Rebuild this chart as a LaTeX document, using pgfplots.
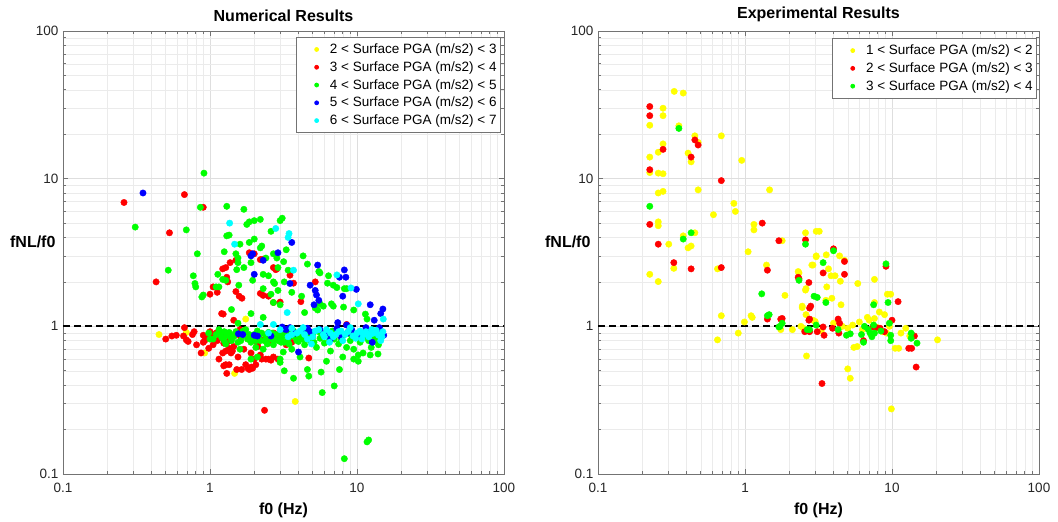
\documentclass[border=0pt]{standalone}
\usepackage{fontspec}
\setmainfont{Liberation Sans}
\usepackage{pgfplots}
\usepackage{pgfplotstable}
\pgfplotsset{compat=1.18}

\definecolor{pgaY}{rgb}{1,1,0}
\definecolor{pgaR}{rgb}{1,0,0}
\definecolor{pgaG}{rgb}{0,1,0}
\definecolor{pgaB}{rgb}{0,0,1}
\definecolor{pgaC}{rgb}{0,1,1}

% ---------- Numerical results: (f0 [Hz], fNL/f0) ----------
\pgfplotstableread{
x y
0.45 0.88
0.69 0.91
0.92 0.66
1.47 0.48
1.75 1.12
3.8 0.31
}\numY

\pgfplotstableread{
x y
0.26 6.9
0.67 7.8
0.90 6.4
0.53 4.3
0.43 2.0
1.00 1.65
1.05 1.85
1.12 1.70
1.20 1.22
1.22 2.45
1.28 2.50
1.30 2.15
1.32 2.00
1.37 2.70
1.45 1.10
1.50 2.80
1.50 1.72
1.58 1.60
1.65 1.55
1.85 3.15
2.00 3.10
2.20 2.83
2.20 1.67
2.30 2.85
2.30 1.62
2.50 1.60
2.70 2.50
2.70 1.45
2.80 2.42
2.85 2.45
3.00 1.46
3.50 2.22
3.70 1.96
4.15 1.47
5.20 2.00
8.50 1.03
1.23 1.21
0.50 0.82
0.55 0.86
0.59 0.87
0.66 0.86
0.67 0.98
0.69 0.81
0.71 0.79
0.76 0.88
0.81 0.75
0.87 0.66
0.90 0.87
0.92 0.80
0.90 0.78
0.95 0.85
1.03 0.88
1.05 0.75
1.10 0.90
1.17 0.86
1.22 0.90
1.24 0.77
1.22 0.66
1.24 0.54
1.28 0.68
1.28 0.55
1.30 0.48
1.35 0.71
1.35 0.55
1.39 0.66
1.42 0.68
1.45 0.73
1.45 0.86
1.52 0.51
1.54 0.90
1.62 0.84
1.64 0.51
1.81 0.52
1.85 0.51
1.90 0.66
1.91 0.53
1.95 0.52
2.00 0.60
2.12 0.73
2.20 0.64
2.25 0.60
2.32 0.81
2.35 0.27
2.40 0.60
2.50 0.77
2.50 0.60
2.60 0.59
2.70 0.62
2.72 0.90
2.90 0.60
2.95 0.86
3.30 0.75
3.60 0.78
4.00 0.82
4.70 0.61
5.00 0.85
6.00 0.90
7.50 0.88
9.00 0.95
1.15 0.93
1.60 0.95
0.78 0.92
1.00 0.92
1.12 0.80
1.33 0.79
1.55 0.62
1.70 0.70
1.75 0.55
2.05 0.55
2.10 0.77
1.15 0.60
0.98 0.71
}\numR

\pgfplotstableread{
x y
0.91 10.9
0.86 6.4
0.31 4.7
0.69 4.5
0.52 2.4
0.82 3.1
0.77 2.2
0.79 1.95
0.80 1.85
0.88 1.58
0.90 1.63
1.30 6.5
1.70 6.2
1.78 4.9
1.85 5.1
2.00 5.2
2.20 5.3
3.00 5.2
3.10 5.4
1.30 4.1
1.35 4.15
2.60 4.4
2.00 3.9
1.85 3.7
2.25 3.5
2.20 3.4
1.60 3.6
3.30 3.3
1.25 3.2
1.50 3.1
2.70 3.1
4.30 3.0
2.85 2.9
2.40 2.9
1.55 2.9
3.17 2.74
1.55 2.7
1.90 2.7
4.60 2.64
1.52 2.42
1.70 2.5
2.90 2.5
3.40 2.4
5.50 2.35
5.60 2.3
1.13 2.25
2.30 2.25
2.50 2.2
6.40 2.2
1.95 2.05
1.22 2.08
1.28 2.05
2.70 2.0
2.75 1.95
3.20 2.0
6.30 1.96
6.90 1.9
1.57 1.9
1.10 1.85
1.15 1.85
7.30 1.83
2.30 1.8
8.20 1.8
8.50 1.8
2.90 1.75
3.60 1.7
2.60 1.65
4.20 1.6
2.70 1.45
3.00 1.4
5.60 1.42
6.70 1.42
6.90 1.37
5.90 1.37
8.10 1.35
5.20 1.33
1.40 1.3
9.50 1.29
5.40 1.29
4.40 1.24
1.90 1.22
11.4 1.21
2.30 1.15
11.7 1.12
1.55 1.05
1.10 0.88
1.20 0.84
1.25 0.80
1.30 0.87
1.35 0.91
1.40 0.80
1.50 0.92
1.55 0.78
1.65 0.86
1.70 0.90
1.80 0.82
1.90 0.78
2.00 0.88
2.10 0.93
2.20 0.80
2.30 0.70
2.40 0.85
2.50 0.91
2.60 0.82
2.70 0.75
2.80 0.88
2.90 0.80
3.00 0.92
3.10 0.85
3.20 0.78
3.30 0.88
3.40 0.82
3.50 0.91
3.60 0.70
3.80 0.85
4.00 0.79
4.20 0.90
4.40 0.75
4.60 0.86
4.80 0.80
5.00 0.88
5.30 0.72
5.60 0.83
6.00 0.77
6.30 0.88
6.60 0.68
7.00 0.82
7.50 0.76
8.00 0.86
8.50 0.72
9.00 0.80
9.50 0.70
10.5 0.78
11.0 0.66
11.5 0.85
12.5 0.72
13.5 0.80
14.0 0.75
1.15 0.95
1.45 0.85
1.75 0.95
2.15 0.86
2.55 0.84
3.70 0.93
4.50 0.95
5.50 0.92
6.80 0.93
8.80 0.90
3.15 0.67
2.05 0.72
1.60 0.70
1.05 0.82
1.18 0.90
1.28 0.76
1.38 0.84
1.48 0.88
1.62 0.80
1.68 0.93
1.85 0.88
1.95 0.84
2.05 0.80
2.25 0.90
2.35 0.80
2.45 0.76
2.65 0.90
2.75 0.82
2.95 0.88
3.05 0.78
3.25 0.92
3.45 0.76
3.55 0.86
3.90 0.80
4.10 0.86
4.30 0.82
4.70 0.90
5.10 0.78
5.80 0.86
6.50 0.82
7.20 0.90
7.80 0.80
9.20 0.86
10.0 0.84
10.8 0.90
12.0 0.80
13.0 0.86
1.25 0.92
0.98 0.90
1.00 0.82
3.70 0.445
3.20 0.50
4.70 0.46
4.60 0.51
5.70 0.49
7.60 0.51
10.2 0.58
10.2 0.64
12.3 0.64
13.9 0.65
5.80 0.356
7.00 0.395
12.0 0.17
11.7 0.165
8.20 0.127
3.00 0.60
2.10 0.62
1.90 0.60
3.00 0.57
4.10 0.62
8.00 0.62
6.20 0.58
9.50 0.60
}\numG

\pgfplotstableread{
x y
0.35 8.0
1.90 3.0
1.95 3.1
2.90 3.15
2.30 2.8
2.00 2.25
3.50 1.95
3.60 3.7
5.40 2.6
8.20 2.41
8.40 2.15
7.60 2.15
4.80 1.9
5.20 1.75
9.90 1.78
8.00 1.6
5.30 1.63
5.50 1.5
5.10 1.40
12.3 1.40
15.0 1.31
14.5 1.22
13.1 1.10
7.40 1.06
8.50 1.02
3.10 0.99
3.20 0.96
3.30 0.95
2.00 0.87
1.56 0.89
1.67 0.88
2.10 0.86
2.60 0.86
4.00 0.67
4.30 0.95
4.80 0.92
6.60 0.82
7.30 0.97
8.60 0.90
9.80 0.88
11.5 0.98
12.7 0.78
14.2 0.98
13.5 0.92
3.80 0.90
5.60 0.95
6.20 0.90
7.80 0.85
9.20 0.95
10.4 0.87
12.0 0.93
15.2 0.87
3.50 0.98
4.60 0.97
}\numB

\pgfplotstableread{
x y
1.36 5.0
2.80 4.6
3.45 4.25
1.47 3.6
3.40 4.0
3.70 2.4
7.30 2.23
9.10 1.82
10.2 1.42
15.1 1.12
3.35 1.24
2.20 1.03
2.70 1.03
3.40 0.85
3.90 0.90
4.30 0.98
4.60 0.82
5.20 0.93
5.90 0.88
6.20 0.95
6.90 0.85
7.50 0.92
8.30 0.88
9.00 0.98
9.80 0.83
10.5 0.93
12.0 0.85
13.0 0.90
14.0 0.87
15.0 0.92
14.5 0.80
11.0 0.88
8.00 0.80
6.50 0.78
4.90 0.76
3.60 0.97
12.6 0.95
2.50 0.90
3.60 0.88
4.10 0.93
4.40 0.88
5.00 0.85
5.50 0.95
6.00 0.85
6.60 0.90
7.20 0.88
7.80 0.93
8.70 0.92
9.40 0.86
10.0 0.90
11.5 0.92
12.3 0.88
13.5 0.94
14.8 0.85
10.8 0.82
3.00 0.95
}\numC

% ---------- Experimental results ----------
\pgfplotstableread{
x y
0.33 39
0.38 38
0.277 30
0.277 26.7
0.225 23
0.355 22.8
0.456 19.5
0.48 17.6
0.69 19.5
0.277 17.2
0.257 15.1
0.225 14
0.41 14.9
0.43 13
0.95 13.3
0.225 11
0.257 10.9
0.277 10.8
0.257 8.0
0.277 8.2
0.48 8.4
1.47 8.4
0.84 6.8
0.86 6.0
0.61 5.7
0.257 5.1
0.257 4.8
1.15 4.9
1.15 4.5
0.456 4.3
0.38 4.1
0.303 3.6
0.41 3.4
0.43 3.5
1.79 3.8
2.58 4.3
1.05 3.2
3.05 2.96
3.05 4.4
3.2 4.4
0.328 2.47
0.65 2.45
0.225 2.25
0.257 2.01
1.4 2.6
1.87 1.62
2.33 2.3
2.58 1.76
3.05 3.0
2.9 2.6
2.45 1.34
2.6 1.2
0.69 1.18
0.65 0.81
0.99 1.07
0.9 0.90
1.12 1.15
2.62 0.63
2.5 0.97
3.57 3.05
4.4 3.0
4.75 2.8
2.85 2.6
3.7 2.45
3.85 2.2
4.1 2.2
4.45 2.02
2.3 2.35
5.85 1.95
7.6 2.08
2.6 1.8
3.6 1.85
3.9 1.55
2.45 1.37
3.55 1.5
4.5 1.4
9.3 1.65
9.8 1.65
7.6 1.45
8.2 1.25
8.9 1.2
7.6 1.13
7.0 1.1
1.1 1.18
12.4 0.97
13.2 0.86
11.1 0.71
20.4 0.81
5.8 0.73
5.0 0.515
5.2 0.445
9.9 0.276
5.5 0.72
10.5 0.71
3.0 1.08
3.3 0.93
4.0 1.05
4.6 1.0
5.0 0.97
5.4 1.02
6.0 1.07
6.3 0.95
6.8 1.15
7.2 0.88
8.0 0.98
8.6 0.92
9.2 0.9
9.6 1.0
11.5 0.9
2.4 1.0
2.1 0.95
2.9 1.1
1.75 0.95
}\expY

\pgfplotstableread{
x y
0.225 30.8
0.225 26.7
0.456 18.3
0.48 16.9
0.277 15.8
0.43 14
0.225 11.5
0.69 9.7
1.31 5.0
0.225 4.9
0.257 3.6
1.70 3.8
2.58 3.85
0.328 2.7
0.43 2.45
0.69 2.5
1.42 2.4
2.33 2.1
2.72 1.98
2.75 1.33
2.72 1.1
1.42 1.12
1.75 1.12
2.55 0.92
4.0 3.35
4.75 2.75
3.4 2.3
4.75 2.25
2.3 2.15
9.1 2.55
2.8 1.37
11 1.47
10 1.1
2.75 1.12
2.75 0.92
3.4 0.99
3.1 0.92
3.45 0.87
4.3 1.12
4.4 1.05
4.35 0.9
7.4 0.99
7.8 0.98
8.9 0.92
8.3 0.97
14.2 0.86
13.6 0.71
6.4 0.80
3.34 0.41
14.6 0.53
13.0 0.71
3.94 0.97
1.79 1.13
}\expR

\pgfplotstableread{
x y
0.355 21.9
0.225 6.5
0.43 4.3
0.38 3.9
2.58 3.6
1.3 1.66
2.33 2.05
2.95 1.6
1.42 1.18
1.79 1.05
1.70 0.99
2.65 0.95
4.0 3.25
3.4 2.7
9.1 2.65
3.1 1.57
3.55 1.45
9.4 1.45
7.5 1.4
9.6 1.05
3.05 1.02
2.75 0.95
6.5 1.0
6.9 0.95
7.1 0.9
7.3 0.85
7.6 0.9
7.5 1.02
9.8 0.87
9.8 0.8
13.5 0.9
13.5 0.83
14.8 0.77
6.4 0.78
5.2 0.89
4.3 0.95
1.73 1.0
1.46 1.2
8.4 0.93
6.2 0.88
4.9 0.87
}\expG

\begin{document}
\begin{tikzpicture}
\useasboundingbox (0,0) rectangle (1058pt,-522pt);

\begin{axis}[
    at={(63pt,-474pt)}, anchor=south west,
    scale only axis, width=441pt, height=443pt,
    xmode=log, ymode=log,
    xmin=0.1, xmax=100, ymin=0.1, ymax=100,
    xtick={0.1,1,10,100}, xticklabels={0.1,1,10,100},
    ytick={0.1,1,10,100}, yticklabels={0.1,1,10,100},
    minor xtick={0.2,0.3,0.4,0.5,0.6,0.7,0.8,0.9,2,3,4,5,6,7,8,9,20,30,40,50,60,70,80,90},
    minor ytick={0.2,0.3,0.4,0.5,0.6,0.7,0.8,0.9,2,3,4,5,6,7,8,9,20,30,40,50,60,70,80,90},
    grid=both,
    major grid style={draw=black!13, line width=0.5pt},
    minor grid style={draw=black!8, line width=0.5pt},
    tick align=inside, major tick length=5pt, minor tick length=3pt,
    tick style={draw=black!55, line width=0.6pt},
    axis line style={draw=black!55, line width=0.9pt},
    tick label style={font=\fontsize{13.5}{15}\selectfont, text=black!85},
    xticklabel style={yshift=-6pt},
    yticklabel style={xshift=-1pt},
    title style={font=\bfseries\fontsize{16}{18}\selectfont},
    xlabel style={font=\bfseries\fontsize{16}{18}\selectfont, yshift=-3pt},
    ylabel style={at={(rel axis cs:0,0.5)}, rotate=-90, anchor=east,
      xshift=-4pt, yshift=10.5pt, font=\bfseries\fontsize{16}{18}\selectfont},
    xlabel={f0 (Hz)}, ylabel={fNL/f0},
    title={Numerical Results},
    legend image code/.code={%
      \draw[#1, mark size=2pt] plot coordinates {(0pt,0pt)};
      \path (-18pt,0pt) (11pt,0pt);},
    legend style={font=\fontsize{13.5}{16}\selectfont, draw=black!55,
      line width=0.7pt, fill=white, at={(0.993,0.9865)}, anchor=north east,
      inner xsep=2pt, inner ysep=4.5pt, row sep=2.5pt, cells={anchor=west}},
  ]
  \addplot[only marks, mark=*, mark size=3.2pt, color=pgaY] table {\numY};
  \addlegendentry{2 < Surface PGA (m/s2) < 3}
  \addplot[only marks, mark=*, mark size=3.2pt, color=pgaR] table {\numR};
  \addlegendentry{3 < Surface PGA (m/s2) < 4}
  \addplot[only marks, mark=*, mark size=3.2pt, color=pgaG] table {\numG};
  \addlegendentry{4 < Surface PGA (m/s2) < 5}
  \addplot[only marks, mark=*, mark size=3.2pt, color=pgaB] table {\numB};
  \addlegendentry{5 < Surface PGA (m/s2) < 6}
  \addplot[only marks, mark=*, mark size=3.2pt, color=pgaC] table {\numC};
  \addlegendentry{6 < Surface PGA (m/s2) < 7}
  \addplot[black, line width=1.8pt, dash pattern=on 7pt off 4pt, forget plot]
    coordinates {(0.1,1) (100,1)};
\end{axis}

\begin{axis}[
    at={(598pt,-474pt)}, anchor=south west,
    scale only axis, width=441pt, height=443pt,
    xmode=log, ymode=log,
    xmin=0.1, xmax=100, ymin=0.1, ymax=100,
    xtick={0.1,1,10,100}, xticklabels={0.1,1,10,100},
    ytick={0.1,1,10,100}, yticklabels={0.1,1,10,100},
    minor xtick={0.2,0.3,0.4,0.5,0.6,0.7,0.8,0.9,2,3,4,5,6,7,8,9,20,30,40,50,60,70,80,90},
    minor ytick={0.2,0.3,0.4,0.5,0.6,0.7,0.8,0.9,2,3,4,5,6,7,8,9,20,30,40,50,60,70,80,90},
    grid=both,
    major grid style={draw=black!13, line width=0.5pt},
    minor grid style={draw=black!8, line width=0.5pt},
    tick align=inside, major tick length=5pt, minor tick length=3pt,
    tick style={draw=black!55, line width=0.6pt},
    axis line style={draw=black!55, line width=0.9pt},
    tick label style={font=\fontsize{13.5}{15}\selectfont, text=black!85},
    xticklabel style={yshift=-6pt},
    yticklabel style={xshift=-1pt},
    title style={font=\bfseries\fontsize{16}{18}\selectfont},
    xlabel style={font=\bfseries\fontsize{16}{18}\selectfont, yshift=-3pt},
    ylabel style={at={(rel axis cs:0,0.5)}, rotate=-90, anchor=east,
      xshift=-4pt, yshift=10.5pt, font=\bfseries\fontsize{16}{18}\selectfont},
    xlabel={f0 (Hz)}, ylabel={fNL/f0},
    title={Experimental Results},
    legend image code/.code={%
      \draw[#1, mark size=2pt] plot coordinates {(0pt,0pt)};
      \path (-18pt,0pt) (11pt,0pt);},
    legend style={font=\fontsize{13.5}{16}\selectfont, draw=black!55,
      line width=0.7pt, fill=white, at={(0.9955,0.984)}, anchor=north east,
      inner xsep=2pt, inner ysep=4.5pt, row sep=2.5pt, cells={anchor=west}},
  ]
  \addplot[only marks, mark=*, mark size=3.2pt, color=pgaY] table {\expY};
  \addlegendentry{1 < Surface PGA (m/s2) < 2}
  \addplot[only marks, mark=*, mark size=3.2pt, color=pgaR] table {\expR};
  \addlegendentry{2 < Surface PGA (m/s2) < 3}
  \addplot[only marks, mark=*, mark size=3.2pt, color=pgaG] table {\expG};
  \addlegendentry{3 < Surface PGA (m/s2) < 4}
  \addplot[black, line width=1.8pt, dash pattern=on 7pt off 4pt, forget plot]
    coordinates {(0.1,1) (100,1)};
\end{axis}
\end{tikzpicture}
\end{document}
